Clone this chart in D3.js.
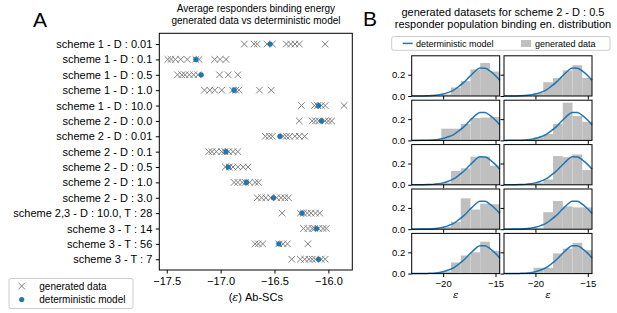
<!DOCTYPE html>
<html lang="en">
<head>
<meta charset="UTF-8">
<title>Average responders binding energy</title>
<script src="https://d3js.org/d3.v7.min.js"></script>
<style>
  body { margin: 0; background: #fff; }
  svg { display: block; font-family: "Liberation Sans", Arial, sans-serif; }
</style>
</head>
<body>
<svg id="chart" width="617" height="313"></svg>
<script>
// ---- panel A data (top to bottom) ----
var schemes = [
  'scheme 1 - D : 0.01', 'scheme 1 - D : 0.1', 'scheme 1 - D : 0.5', 'scheme 1 - D : 1.0',
  'scheme 1 - D : 10.0', 'scheme 2 - D : 0.0', 'scheme 2 - D : 0.01', 'scheme 2 - D : 0.1',
  'scheme 2 - D : 0.5', 'scheme 2 - D : 1.0', 'scheme 2 - D : 3.0',
  'scheme 2,3 - D : 10.0, T : 28', 'scheme 3 - T : 14', 'scheme 3 - T : 56', 'scheme 3 - T : 7'
];
var generated = [
  [-16.78, -16.69, -16.66, -16.57, -16.52, -16.39, -16.35, -16.31, -16.27, -16.03],
  [-17.49, -17.46, -17.42, -17.37, -17.31, -17.23, -17.20, -17.055, -17.005, -16.95],
  [-17.40, -17.36, -17.33, -17.29, -17.25, -17.21, -17.01, -16.93, -16.84],
  [-17.15, -17.10, -17.055, -16.99, -16.89, -16.86, -16.83, -16.64, -16.53],
  [-16.25, -16.13, -16.10, -16.065, -16.03, -15.855],
  [-16.27, -16.15, -16.12, -16.09, -16.03, -16.00, -15.97],
  [-16.585, -16.55, -16.52, -16.42, -16.39, -16.36, -16.31, -16.27, -16.22],
  [-17.11, -17.08, -17.04, -16.99, -16.96, -16.925, -16.885, -16.84],
  [-16.956, -16.92, -16.885, -16.84, -16.79, -16.745],
  [-16.875, -16.84, -16.80, -16.77, -16.73, -16.68, -16.65],
  [-16.66, -16.62, -16.58, -16.535, -16.48, -16.44, -16.405, -16.37],
  [-16.43, -16.26, -16.23, -16.195, -16.16, -16.12, -16.08],
  [-16.23, -16.19, -16.15, -16.13, -16.09, -16.05, -16.02],
  [-16.68, -16.65, -16.61, -16.46, -16.42, -16.38, -16.19],
  [-16.34, -16.26, -16.22, -16.18, -16.15, -16.12, -16.065, -16.03]
];
var deterministic = [-16.54, -17.23, -17.18, -16.875, -16.09, -16.065, -16.45, -16.95,
  -16.93, -16.76, -16.51, -16.245, -16.11, -16.46, -16.09];
var ticksA = [-17.5, -17.0, -16.5, -16.0];

// ---- panel B data (panels row by row, left then right) ----
var binEdges = [-20.18, -19.25, -18.32, -17.39, -16.46, -15.53, -14.6];
var histHeights = [
  [0.015, 0.08, 0.14, 0.25, 0.31, 0.23],
  [0.03, 0.13, 0.17, 0.24, 0.29, 0.17],
  [0.11, 0.11, 0.155, 0.21, 0.215, 0.22],
  [0.03, 0.06, 0.155, 0.355, 0.23, 0.175],
  [0.02, 0.13, 0.155, 0.265, 0.265, 0.18],
  [0.02, 0.05, 0.27, 0.26, 0.285, 0.14],
  [0.02, 0.07, 0.29, 0.185, 0.24, 0.235],
  [0.01, 0.16, 0.265, 0.215, 0.205, 0.205],
  [0.02, 0.105, 0.17, 0.2, 0.3, 0.215],
  [0.055, 0.055, 0.19, 0.235, 0.29, 0.22]
];
var modelEps = [-23, -22, -21.5, -21, -20.5, -20, -19.5, -19, -18.5, -18, -17.5, -17, -16.5, -16, -15.5, -15, -14.6];
var modelDens = [0.0, 0.001, 0.002, 0.004, 0.009, 0.018, 0.034, 0.055, 0.09, 0.13, 0.18, 0.228, 0.263, 0.262, 0.233, 0.19, 0.147];
var ticksBx = [-20, -15];
var ticksBy = [0.0, 0.2];

var blue = '#1f77b4';
var svg = d3.select('#chart');

// ================= Panel A =================
var fa = {left: 159.3, right: 352.3, top: 33.3, bottom: 270};
var xA = d3.scaleLinear().domain([-17.569, -15.778]).range([fa.left, fa.right]);
var yA = d3.scalePoint().domain(schemes).range([fa.top, fa.bottom]).padding(0.7);

svg.append('text').attr('x', 33).attr('y', 27).attr('font-size', 21).text('A');
svg.append('text').attr('x', 256).attr('y', 12).attr('font-size', 10)
  .attr('text-anchor', 'middle').text('Average responders binding energy');
svg.append('text').attr('x', 256).attr('y', 24).attr('font-size', 10)
  .attr('text-anchor', 'middle').text('generated data vs deterministic model');

var gyA = svg.append('g').attr('transform', 'translate(' + fa.left + ',0)')
  .call(d3.axisLeft(yA).tickSize(3.5).tickPadding(3.5));
gyA.select('.domain').remove();
gyA.selectAll('text').attr('font-size', 11).attr('font-family', '"Liberation Sans", Arial, sans-serif').attr('fill', '#000');

var gxA = svg.append('g').attr('transform', 'translate(0,' + fa.bottom + ')')
  .call(d3.axisBottom(xA).tickValues(ticksA).tickFormat(d3.format('.1f')).tickSize(3.5).tickPadding(3.5));
gxA.select('.domain').remove();
gxA.selectAll('text').attr('font-size', 11).attr('font-family', '"Liberation Sans", Arial, sans-serif').attr('fill', '#000');

var lblA = svg.append('text').attr('x', (fa.left + fa.right) / 2).attr('y', 300.5)
  .attr('font-size', 11).attr('text-anchor', 'middle');
lblA.append('tspan').text('(');
lblA.append('tspan').attr('font-style', 'italic').attr('font-family', '"DejaVu Serif", serif').text('ε');
lblA.append('tspan').text(') Ab-SCs');

var cross = 'M-3.3,-3.3L3.3,3.3M-3.3,3.3L3.3,-3.3';
schemes.forEach(function (s, i) {
  svg.append('g').selectAll('path').data(generated[i]).enter().append('path')
    .attr('d', cross)
    .attr('transform', function (d) { return 'translate(' + xA(d) + ',' + yA(s) + ')'; })
    .attr('stroke', '#808080').attr('stroke-width', 1).attr('fill', 'none');
});
svg.append('g').selectAll('circle').data(deterministic).enter().append('circle')
  .attr('cx', function (d) { return xA(d); })
  .attr('cy', function (d, i) { return yA(schemes[i]); })
  .attr('r', 2.6).attr('fill', blue);

svg.append('rect').attr('x', fa.left).attr('y', fa.top)
  .attr('width', fa.right - fa.left).attr('height', fa.bottom - fa.top)
  .attr('fill', 'none').attr('stroke', '#000').attr('stroke-width', 1);

// legend A
svg.append('rect').attr('x', 9).attr('y', 278.5).attr('width', 124).attr('height', 30)
  .attr('rx', 2).attr('fill', '#fff').attr('stroke', '#cccccc');
svg.append('path').attr('d', cross).attr('transform', 'translate(21.7,286)')
  .attr('stroke', '#808080').attr('fill', 'none');
svg.append('circle').attr('cx', 21.7).attr('cy', 299.5).attr('r', 2.6).attr('fill', blue);
svg.append('text').attr('x', 39.3).attr('y', 289.5).attr('font-size', 10).text('generated data');
svg.append('text').attr('x', 39.3).attr('y', 303).attr('font-size', 10).text('deterministic model');

// ================= Panel B =================
svg.append('text').attr('x', 363).attr('y', 26).attr('font-size', 21).text('B');
svg.append('text').attr('x', 503).attr('y', 15.5).attr('font-size', 11)
  .attr('text-anchor', 'middle').text('generated datasets for scheme 2 - D : 0.5');
svg.append('text').attr('x', 503).attr('y', 27.5).attr('font-size', 11)
  .attr('text-anchor', 'middle').text('responder population binding en. distribution');

// legend B
svg.append('rect').attr('x', 391.7).attr('y', 36.5).attr('width', 218.3).attr('height', 13.8)
  .attr('rx', 2).attr('fill', '#fff').attr('stroke', '#cccccc');
svg.append('line').attr('x1', 402.7).attr('x2', 412.7).attr('y1', 43.4).attr('y2', 43.4)
  .attr('stroke', blue).attr('stroke-width', 1.5);
svg.append('text').attr('x', 416).attr('y', 46.6).attr('font-size', 9).text('deterministic model');
svg.append('rect').attr('x', 521).attr('y', 40).attr('width', 10).attr('height', 7).attr('fill', '#bfbfbf');
svg.append('text').attr('x', 535).attr('y', 46.6).attr('font-size', 9).text('generated data');

var pw = 88, ph = 40.2;
var colX = [411.7, 504];
var rowY = 55.8, rowStep = 44.4;
var xB = d3.scaleLinear().domain([-23, -14.6]).range([0, pw]);
var yB = d3.scaleLinear().domain([0, 0.378]).range([ph, 0]);
var modelPts = modelEps.map(function (e, i) { return [e, modelDens[i]]; });
var line = d3.line().x(function (d) { return xB(d[0]); }).y(function (d) { return yB(d[1]); })
  .curve(d3.curveMonotoneX);

histHeights.forEach(function (hs, p) {
  var r = Math.floor(p / 2), c = p % 2;
  var g = svg.append('g').attr('transform', 'translate(' + colX[c] + ',' + (rowY + r * rowStep) + ')');
  g.selectAll('rect.bar').data(hs).enter().append('rect').attr('class', 'bar')
    .attr('x', function (d, k) { return xB(binEdges[k]); })
    .attr('width', function (d, k) { return xB(binEdges[k + 1]) - xB(binEdges[k]); })
    .attr('y', function (d) { return yB(d); })
    .attr('height', function (d) { return yB(0) - yB(d); })
    .attr('fill', '#bfbfbf');
  g.append('path').datum(modelPts).attr('d', line)
    .attr('fill', 'none').attr('stroke', blue).attr('stroke-width', 1.5);

  var ay = g.append('g').call(d3.axisLeft(yB).tickValues(ticksBy).tickFormat(d3.format('.1f'))
    .tickSize(3.5).tickPadding(3));
  ay.select('.domain').remove();
  ay.selectAll('text').attr('font-size', 9.5).attr('font-family', '"Liberation Sans", Arial, sans-serif')
    .attr('fill', '#000').style('display', c === 0 ? null : 'none');

  var axb = g.append('g').attr('transform', 'translate(0,' + ph + ')')
    .call(d3.axisBottom(xB).tickValues(ticksBx).tickFormat(d3.format('d')).tickSize(3.5).tickPadding(3));
  axb.select('.domain').remove();
  axb.selectAll('text').attr('font-size', 9.5).attr('font-family', '"Liberation Sans", Arial, sans-serif')
    .attr('fill', '#000').style('display', r === 4 ? null : 'none');

  g.append('rect').attr('width', pw).attr('height', ph)
    .attr('fill', 'none').attr('stroke', '#000').attr('stroke-width', 1);

  if (r === 4) {
    g.append('text').attr('x', pw / 2).attr('y', ph + 24).attr('font-size', 10)
      .attr('text-anchor', 'middle').attr('font-style', 'italic')
      .attr('font-family', '"DejaVu Serif", serif').text('ε');
  }
});
</script>
</body>
</html>
